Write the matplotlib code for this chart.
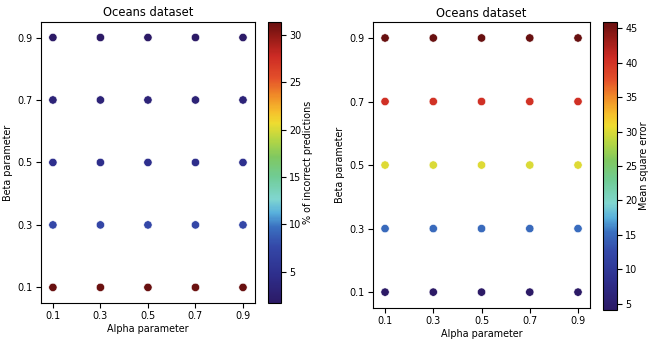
import matplotlib
matplotlib.use("Agg")
import matplotlib.pyplot as plt
from matplotlib.colors import LinearSegmentedColormap
import numpy as np

alpha = [0.1, 0.3, 0.5, 0.7, 0.9]
beta = [0.1, 0.3, 0.5, 0.7, 0.9]

# % of incorrect predictions, rows = beta, cols = alpha
wrong_pct = np.array([
    [31.3, 31.2, 31.4, 31.2, 31.3],
    [7.6, 7.5, 7.6, 7.5, 7.6],
    [4.8, 4.7, 4.8, 4.7, 4.9],
    [3.2, 3.1, 3.2, 3.0, 3.2],
    [1.8, 1.7, 1.8, 1.8, 1.9],
])

# mean square error, rows = beta, cols = alpha
mse = np.array([
    [4.2, 4.1, 4.1, 4.2, 4.1],
    [15.0, 14.9, 15.0, 14.9, 15.1],
    [30.1, 30.0, 30.1, 30.0, 30.2],
    [40.2, 40.1, 40.2, 40.1, 40.3],
    [45.9, 45.8, 45.9, 45.8, 45.9],
])

# muted rainbow, matched to the reference colour bars
cmap = LinearSegmentedColormap.from_list('muted_rainbow', [
    (0.00, '#2c1a66'), (0.10, '#2e2e8c'), (0.20, '#3448a8'),
    (0.27, '#3a70c0'), (0.32, '#58b0dc'), (0.37, '#80d6d0'),
    (0.45, '#70cc94'), (0.52, '#80c860'), (0.58, '#b4d644'),
    (0.64, '#eedc30'), (0.68, '#f6c02c'), (0.74, '#f08a28'),
    (0.80, '#e4502a'), (0.88, '#cc2a24'), (0.95, '#921a16'),
    (1.00, '#681010'),
])

plt.rcParams['font.size'] = 6.9
plt.rcParams['xtick.major.pad'] = 2.5
plt.rcParams['ytick.major.pad'] = 2.5

fig = plt.figure(figsize=(6.48, 3.42), dpi=100)
panels = [
    (wrong_pct, '% of incorrect predictions', [0.0633, 0.114, 0.330, 0.822],
     [0.4136, 0.114, 0.020, 0.822]),
    (mse, 'Mean square error', [0.5756, 0.0994, 0.335, 0.836],
     [0.9306, 0.0936, 0.0216, 0.842]),
]

aa, bb = np.meshgrid(alpha, beta)
for vals, clabel, ax_pos, cb_pos in panels:
    ax = fig.add_axes(ax_pos)
    sc = ax.scatter(aa.ravel(), bb.ravel(), c=vals.ravel(), cmap=cmap,
                    s=36, edgecolors='white', linewidths=0.4)
    ax.set_xlim(0.05, 0.95)
    ax.set_ylim(0.05, 0.95)
    ax.set_xticks(alpha)
    ax.set_yticks(beta)
    ax.set_xlabel('Alpha parameter', labelpad=2)
    ax.set_ylabel('Beta parameter', labelpad=3)
    ax.set_title('Oceans dataset', fontsize=8.3, pad=4)
    cax = fig.add_axes(cb_pos)
    cb = fig.colorbar(sc, cax=cax)
    cb.set_label(clabel, labelpad=1)

fig.savefig('out.png', dpi=100)
